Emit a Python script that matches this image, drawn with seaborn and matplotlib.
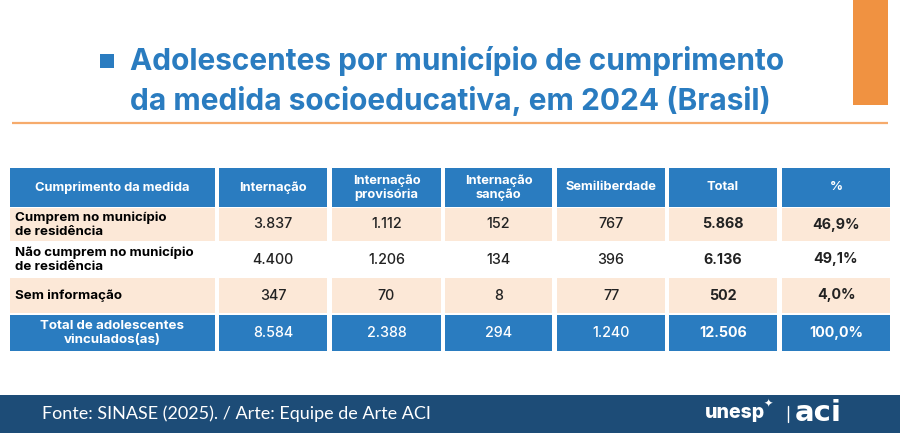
import matplotlib
matplotlib.use("Agg")
import matplotlib.pyplot as plt
from matplotlib.patches import Rectangle
import seaborn as sns

# ---------------- data ----------------
header = ["Cumprimento da medida", "Internação", "Internação\nprovisória",
          "Internação\nsanção", "Semiliberdade", "Total", "%"]
categories = ["Cumprem no município\nde residência",
              "Não cumprem no município\nde residência",
              "Sem informação"]
internacao = [3837, 4400, 347]
provisoria = [1112, 1206, 70]
sancao = [152, 134, 8]
semiliberdade = [767, 396, 77]
total = [5868, 6136, 502]
pct = [46.9, 49.1, 4.0]
total_label = "Total de adolescentes\nvinculados(as)"
total_row = [8584, 2388, 294, 1240, 12506]
total_pct = 100.0

title = "Adolescentes por município de cumprimento\nda medida socioeducativa, em 2024 (Brasil)"
source = "Fonte: SINASE (2025). / Arte: Equipe de Arte ACI"

# ---------------- style ----------------
sns.set_theme(style="white")
plt.rcParams["font.family"] = ["Inter", "DejaVu Sans"]

BLUE = "#2a7cc0"
BEIGE = "#fce8d7"
DARK = "#1d4c77"
ORANGE = "#f09241"
ORANGE_LINE = "#f6ab6c"
TXT = "#222222"


def fmt_int(n):
    return f"{n:,}".replace(",", ".")


def fmt_pct(p):
    return f"{p:.1f}%".replace(".", ",")


fig = plt.figure(figsize=(9, 4.33), dpi=100)
ax = fig.add_axes([0, 0, 1, 1])
ax.set_xlim(0, 900)
ax.set_ylim(433, 0)
ax.axis("off")

# decorative top elements
ax.add_patch(Rectangle((853, 0), 35, 105, color=ORANGE, lw=0))
ax.plot([12, 888], [123, 123], color=ORANGE_LINE, lw=1.6, solid_capstyle="butt")
ax.add_patch(Rectangle((100, 54), 14, 14, color=BLUE, lw=0))
ax.text(130, 81, title, color=BLUE, fontsize=21.5, fontweight="bold",
        ha="left", va="center", linespacing=1.4)

# table geometry (layout)
col_x = [(10, 215), (219, 327), (332, 441), (445, 552), (557, 665), (669, 777), (782, 890)]
row_y = [(168, 207), (208, 241), (242, 277), (278, 313), (315, 351)]

body_cols = [internacao, provisoria, sancao, semiliberdade, total]
HFS = 9.3
BFS = 9.6
NFS = 10.3

# header
for (x0, x1), lab in zip(col_x, header):
    y0, y1 = row_y[0]
    ax.add_patch(Rectangle((x0, y0), x1 - x0, y1 - y0, color=BLUE, lw=0))
    ax.text((x0 + x1) / 2, (y0 + y1) / 2, lab, color="white", fontsize=HFS,
            fontweight="bold", ha="center", va="center", linespacing=1.2)

# body rows
for i, cat in enumerate(categories):
    y0, y1 = row_y[i + 1]
    bg = BEIGE if i % 2 == 0 else "white"
    for (x0, x1) in col_x:
        ax.add_patch(Rectangle((x0, y0), x1 - x0, y1 - y0, color=bg, lw=0))
    yc = (y0 + y1) / 2
    ax.text(col_x[0][0] + 5, yc, cat, color="black", fontsize=BFS,
            fontweight="bold", ha="left", va="center", linespacing=1.2)
    for j, col in enumerate(body_cols):
        x0, x1 = col_x[j + 1]
        ax.text((x0 + x1) / 2, yc, fmt_int(col[i]), color=TXT, fontsize=NFS,
                fontweight="bold" if j == 4 else "medium", ha="center", va="center")
    x0, x1 = col_x[6]
    ax.text((x0 + x1) / 2, yc, fmt_pct(pct[i]), color=TXT, fontsize=NFS,
            fontweight="bold", ha="center", va="center")

# total row
y0, y1 = row_y[4]
yc = (y0 + y1) / 2
for (x0, x1) in col_x:
    ax.add_patch(Rectangle((x0, y0), x1 - x0, y1 - y0, color=BLUE, lw=0))
ax.text((col_x[0][0] + col_x[0][1]) / 2, yc, total_label, color="white", fontsize=BFS,
        fontweight="bold", ha="center", va="center", linespacing=1.2)
for j, v in enumerate(total_row):
    x0, x1 = col_x[j + 1]
    ax.text((x0 + x1) / 2, yc, fmt_int(v), color="white", fontsize=NFS,
            fontweight="bold" if j == 4 else "medium", ha="center", va="center")
x0, x1 = col_x[6]
ax.text((x0 + x1) / 2, yc, fmt_pct(total_pct), color="white", fontsize=NFS,
        fontweight="bold", ha="center", va="center")

# footer
ax.add_patch(Rectangle((0, 395), 900, 38, color=DARK, lw=0))
ax.text(42, 414, source, color="white", fontsize=13, ha="left", va="center",
        family=["Lato", "DejaVu Sans"], fontweight="normal")
ax.text(705, 413, "unesp", color="white", fontsize=14, fontweight="heavy",
        ha="left", va="center")
ax.text(764, 404, "✦", color="white", fontsize=8, ha="left", va="center",
        family=["DejaVu Sans"])
ax.plot([788, 788], [406, 422], color="white", lw=1)
ax.text(795, 413, "aci", color="white", fontsize=21, fontweight="bold",
        ha="left", va="center", family=["DejaVu Sans"])

fig.savefig("out.png", dpi=100, facecolor="white")
